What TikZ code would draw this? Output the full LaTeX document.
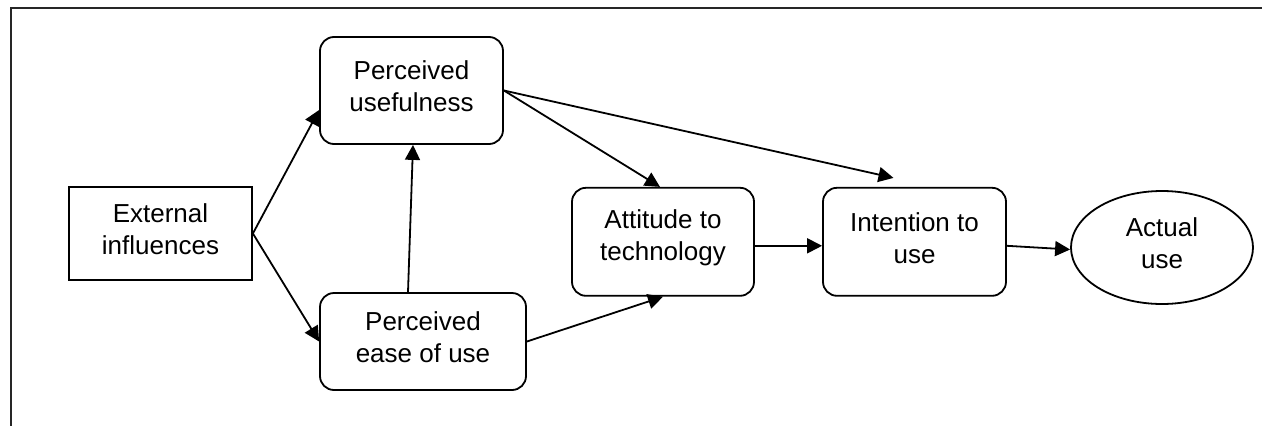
\documentclass[tikz,border=0pt]{standalone}
\usepackage{fontspec}
\setmainfont{Liberation Sans}
\usetikzlibrary{arrows.meta,shapes.geometric}
\tikzset{
  every node/.style={font=\fontsize{26}{32}\selectfont, align=center, inner sep=0pt, line width=1.8pt},
  txt/.style={label={[yshift=4pt]center:#1}},
  plainbox/.style={draw, rectangle},
  roundbox/.style={draw, rectangle, rounded corners=14pt},
  ovalbox/.style={draw, ellipse},
  arr/.style={line width=1.8pt, -{Triangle[length=15pt,width=15pt]}},
  frame/.style={line width=1.8pt, draw=black!85}
}
\begin{document}
\begin{tikzpicture}[x=1pt,y=-1pt]
\useasboundingbox (0,0) rectangle (1262,426);
\clip (0,0) rectangle (1262,426);
\draw[frame] (11,440) -- (11,8) -- (1280,8);

\node[plainbox, minimum width=183pt, minimum height=93pt, txt={External\\influences}] (ext) at (160.5,233.5) {};
\node[roundbox, minimum width=183pt, minimum height=107pt, txt={Perceived\\usefulness}] (pu) at (411.5,90.5) {};
\node[roundbox, minimum width=206pt, minimum height=97pt, txt={Perceived\\ease of use}] (peou) at (423,341.5) {};
\node[roundbox, minimum width=182pt, minimum height=108pt, txt={Attitude to\\technology}] (att) at (663,241.8) {};
\node[roundbox, minimum width=183pt, minimum height=108pt, txt={Intention to\\use}] (int) at (914.5,241.8) {};
\node[ovalbox, minimum width=182pt, minimum height=113pt, txt={Actual\\use}] (act) at (1162,247.5) {};

\draw[arr] (ext.east) -- ([yshift=-19.5pt]pu.west);
\draw[arr] (ext.east) -- (peou.west);
\draw[arr] ([xshift=-15pt]peou.north) -- ([xshift=1.5pt]pu.south);
\draw[arr] (pu.east) -- ([xshift=-3pt]att.north);
\draw[arr] (pu.east) -- ([xshift=-21pt,yshift=9pt]int.north);
\draw[arr] (peou.east) -- (att.south);
\draw[arr] ([yshift=-4pt]att.east) -- ([yshift=-4pt]int.west);
\draw[arr] ([yshift=-4pt]int.east) -- ([yshift=-2pt]act.west);
\end{tikzpicture}
\end{document}
